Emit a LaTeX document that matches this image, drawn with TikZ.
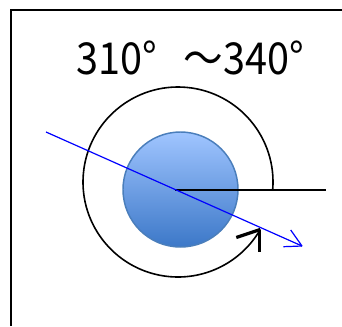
\documentclass[tikz,border=0pt]{standalone}
\usepackage{fontspec}
\usetikzlibrary{calc}
\newfontfamily\jpfont{Noto Sans CJK JP}
\definecolor{balltop}{RGB}{160,197,255}
\definecolor{ballbot}{RGB}{60,120,200}
\definecolor{ballrim}{RGB}{74,126,187}
\tikzset{
  frameline/.style={line width=1.5pt, draw=black},
  turnarc/.style={line width=1.2pt, draw=black},
  barb/.style={line width=2.4pt, draw=black},
  refline/.style={line width=1.9pt, draw=black},
  axisline/.style={line width=0.9pt, draw=blue},
  titletext/.style={font=\jpfont\fontsize{33}{40}\selectfont, inner sep=0pt, anchor=base}
}
\begin{document}
\begin{tikzpicture}[x=0.75pt,y=-0.75pt]
\useasboundingbox (0,0) rectangle (342,326);
\fill[white] (0,0) rectangle (342,326);
% frame
\draw[frameline] (11,326) -- (11,10) -- (342,10);
% title
\node[titletext] (title) at (190,74) {\scalebox{0.9}[1]{310°}\hspace{20pt}\scalebox{0.9}[1]{～340°}};
% ball
\coordinate (c) at (180.5,189.5);
\shade[top color=balltop, bottom color=ballbot, draw=ballrim, line width=1.1pt] (c) circle[radius=57.5];
% rotation arc
\coordinate (o) at (178,182);
\draw[turnarc] ($(o)+(5:95)$) arc[start angle=5, end angle=-330, radius=95] coordinate (tip);
\draw[barb] ($(tip)+(-1,0)$) -- ++(0,22);
\draw[barb] (tip) -- ++(-24,8);
% reference horizontal line
\coordinate (h0) at (175,190);
\coordinate (h1) at (326,190);
\draw[refline] (h0) -- (h1);
% blue axis with open arrow
\coordinate (b0) at (46,132);
\coordinate (b1) at (302,246);
\draw[axisline] (b0) -- (b1);
\draw[axisline] (b1) -- (290.7,230);
\draw[axisline] (b1) -- (283.3,246.7);
\end{tikzpicture}
\end{document}
